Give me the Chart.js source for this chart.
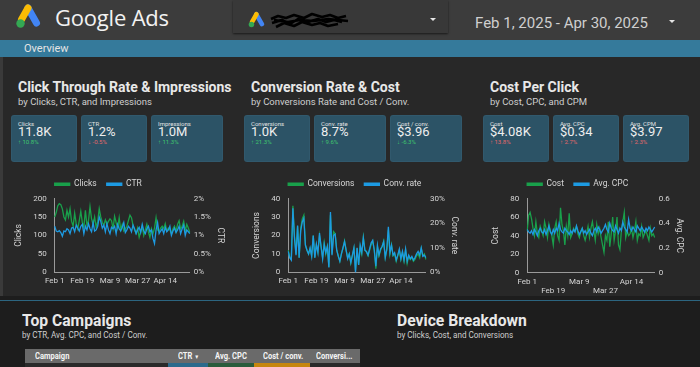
<!DOCTYPE html>
<html>
<head>
<meta charset="utf-8">
<script src="https://cdn.jsdelivr.net/npm/chart.js@4.4.1/dist/chart.umd.min.js"></script>
<style>
html,body{margin:0;padding:0}
body{width:700px;height:367px;overflow:hidden;position:relative;background:#282828;font-family:Roboto,"Noto Sans",sans-serif;color:#e6e6e6}
.a{position:absolute}
#hdr{left:0;top:0;width:700px;height:40px;background:#3c3c3c}
#brand{left:55px;top:2px;font-size:22px;color:#f2f2f2;font-family:"Open Sans",Roboto,sans-serif;letter-spacing:-0.2px}
#acct{left:233px;top:0;width:215px;height:33px;background:#383838;box-shadow:0 1px 2px rgba(0,0,0,.6)}
#dates{left:475px;top:14px;font-size:15px;color:#cfcfcf}
.caret{width:0;height:0;border-left:3px solid transparent;border-right:3px solid transparent;border-top:3px solid #e6e6e6}
#bar{left:0;top:40px;width:700px;height:17px;background:#357a9b}
#bar span{position:absolute;left:24px;top:2px;font-size:11px;color:#e4e4e4}
#edge{left:0;top:57px;width:3px;height:239px;background:#3a3a3a}
.t{font-size:14px;font-weight:bold;color:#e8e8e8;top:79px;white-space:nowrap}
.s{font-size:9.5px;color:#cfcfcf;top:96px;white-space:nowrap}
.card{top:116px;height:45px;background:#2c5366;border-radius:2px;box-shadow:0 0 0 1px #31596d}
.cl{position:absolute;left:6px;top:4px;font-size:6px;color:#e2e2e2}
.cv{position:absolute;left:6px;top:8px;font-size:13px;color:#eeeeee}
.cd{position:absolute;left:6px;top:22px;font-size:6px}
.up{color:#3fc46e}.dn{color:#e2686a}
.cw{overflow:hidden}
#bot{left:0;top:296px;width:700px;height:71px;background:#1d1d1d}
#bline{left:0;top:300px;width:700px;height:1px;background:#2c6580}
.bt{font-size:16.5px;font-weight:bold;color:#e8e8e8;top:311px;white-space:nowrap;transform:scaleX(0.95);transform-origin:0 0}
.bs{font-size:9px;color:#cfcfcf;top:330px;white-space:nowrap;transform:scaleX(0.9);transform-origin:0 0}
#th{left:25px;top:349px;width:335px;height:14px;background:#6a6a6a}
.th{position:absolute;top:2px;font-size:9px;font-weight:bold;color:#f4f4f4;white-space:nowrap;transform:scaleX(0.84);transform-origin:0 0}
</style>
</head>
<body>
<div class="a" id="hdr"></div>
<svg class="a" style="left:14px;top:3px" width="30" height="26" viewBox="0 0 30 26">
  <line x1="14" y1="5" x2="22.5" y2="20" stroke="#4285f4" stroke-width="7" stroke-linecap="round"/>
  <line x1="14" y1="5" x2="7.5" y2="16.5" stroke="#fbbc04" stroke-width="7" stroke-linecap="round"/>
  <circle cx="6.5" cy="20.5" r="4.2" fill="#34a853"/>
</svg>
<div class="a" id="brand">Google Ads</div>
<div class="a" id="acct"></div>
<svg class="a" style="left:247px;top:11px" width="20" height="17" viewBox="0 0 30 26">
  <line x1="14" y1="5" x2="22.5" y2="20" stroke="#4285f4" stroke-width="7" stroke-linecap="round"/>
  <line x1="14" y1="5" x2="7.5" y2="16.5" stroke="#fbbc04" stroke-width="7" stroke-linecap="round"/>
  <circle cx="6.5" cy="20.5" r="4.2" fill="#34a853"/>
</svg>
<svg class="a" style="left:268px;top:10px" width="82" height="22" viewBox="0 0 82 22">
  <path d="M3 9 L10 6 L18 8 L26 5 L36 8 L44 4 L54 7 L62 5 L70 8 L78 6 M4 13 L14 10 L22 14 L30 9 L40 12 L50 9 L58 12 L66 10 L74 12 M8 17 L16 13 L26 16 L34 12 L44 15 L52 13 L60 16 L70 14 M6 10 L20 12 L32 10 L46 11 L60 9 L80 11" stroke="#000" stroke-width="2.6" fill="none" stroke-linejoin="round"/>
</svg>
<div class="a caret" style="left:430px;top:18px"></div>
<div class="a" id="dates">Feb 1, 2025 - Apr 30, 2025</div>
<div class="a caret" style="left:669px;top:20px"></div>
<div class="a" id="bar"><span>Overview</span></div>
<div class="a" id="edge"></div>

<div class="a t" style="left:18px">Click Through Rate &amp; Impressions</div>
<div class="a s" style="left:18px">by Clicks, CTR, and Impressions</div>
<div class="a card" style="left:12px;width:64px"><div class="cl">Clicks</div><div class="cv">11.8K</div><div class="cd up">↑ 10.8%</div></div>
<div class="a card" style="left:82px;width:64px"><div class="cl">CTR</div><div class="cv">1.2%</div><div class="cd dn">↓ -0.5%</div></div>
<div class="a card" style="left:152px;width:70px"><div class="cl">Impressions</div><div class="cv">1.0M</div><div class="cd up">↑ 11.3%</div></div>

<div class="a t" style="left:251px">Conversion Rate &amp; Cost</div>
<div class="a s" style="left:251px">by Conversions Rate and Cost / Conv.</div>
<div class="a card" style="left:245px;width:64px"><div class="cl">Conversions</div><div class="cv">1.0K</div><div class="cd up">↑ 21.3%</div></div>
<div class="a card" style="left:315px;width:70px"><div class="cl">Conv. rate</div><div class="cv">8.7%</div><div class="cd up">↑ 9.6%</div></div>
<div class="a card" style="left:391px;width:70px"><div class="cl">Cost / conv.</div><div class="cv">$3.96</div><div class="cd up">↓ -6.3%</div></div>

<div class="a t" style="left:490px">Cost Per Click</div>
<div class="a s" style="left:490px">by Cost, CPC, and CPM</div>
<div class="a card" style="left:484px;width:64px"><div class="cl">Cost</div><div class="cv">$4.08K</div><div class="cd dn">↑ 13.8%</div></div>
<div class="a card" style="left:554px;width:64px"><div class="cl">Avg. CPC</div><div class="cv">$0.34</div><div class="cd dn">↑ 2.7%</div></div>
<div class="a card" style="left:624px;width:64px"><div class="cl">Avg. CPM</div><div class="cv">$3.97</div><div class="cd dn">↑ 2.3%</div></div>

<div class="a cw" style="left:14px;top:170px;width:212px;height:125px"><div style="position:relative;width:212px;height:120px"><canvas id="c1"></canvas></div></div>
<div class="a cw" style="left:252px;top:170px;width:208px;height:125px"><div style="position:relative;width:208px;height:120px"><canvas id="c2"></canvas></div></div>
<div class="a cw" style="left:491px;top:170px;width:194px;height:125px"><div style="position:relative;width:194px;height:130px"><canvas id="c3"></canvas></div></div>

<div class="a" id="bot"></div>
<div class="a" id="bline"></div>
<div class="a bt" style="left:22px">Top Campaigns</div>
<div class="a bs" style="left:22px">by CTR, Avg. CPC, and Cost / Conv.</div>
<div class="a bt" style="left:397px">Device Breakdown</div>
<div class="a bs" style="left:397px">by Clicks, Cost, and Conversions</div>
<div class="a" id="th">
  <span class="th" style="left:10px">Campaign</span>
  <span class="th" style="left:153px">CTR <span style="font-size:6px">▼</span></span>
  <span class="th" style="left:190px">Avg. CPC</span>
  <span class="th" style="left:238px">Cost / conv.</span>
  <span class="th" style="left:291px">Conversi...</span>
</div>
<div class="a" style="left:25px;top:363px;width:143px;height:4px;background:#2a2a2a"></div>
<div class="a" style="left:168px;top:363px;width:40px;height:4px;background:#2b6a8c"></div>
<div class="a" style="left:208px;top:363px;width:46px;height:4px;background:#2a5c3c"></div>
<div class="a" style="left:254px;top:363px;width:56px;height:4px;background:#c6860e"></div>
<div class="a" style="left:310px;top:363px;width:50px;height:4px;background:#2a2a2a"></div>

<script>
'use strict';
// daily series, Feb 1 - Apr 30 2025
var tickLabels = ['Feb 1', 'Feb 19', 'Mar 9', 'Mar 27', 'Apr 14'];

var clicks = [150, 162, 180, 186, 183, 172, 150, 142, 168, 150,
    172, 138, 125, 160, 132, 118, 140, 165, 135, 122,
    168, 128, 140, 178, 145, 130, 150, 122, 138, 172,
    150, 135, 128, 142, 130, 138, 145, 140, 118, 152,
    135, 120, 148, 115, 130, 112, 118, 125, 140, 155,
    148, 128, 115, 105, 120, 95, 110, 125, 100, 115,
    130, 110, 95, 118, 105, 120, 148, 115, 110, 120,
    125, 118, 132, 112, 120, 115, 105, 118, 125, 110,
    130, 140, 118, 125, 138, 112, 130, 120, 108];
var ctr = [1.25, 1.12, 1.10, 1.13, 1.08, 0.98, 1.12, 1.10, 1.18, 1.15,
    1.05, 1.20, 1.22, 1.10, 1.28, 1.20, 1.12, 1.25, 1.30, 1.05,
    1.25, 1.15, 1.32, 1.18, 1.10, 1.35, 1.12, 1.15, 1.25, 1.50,
    1.38, 1.20, 1.28, 1.10, 1.32, 1.15, 1.05, 1.22, 1.18, 1.25,
    1.05, 1.30, 1.18, 1.12, 1.22, 1.35, 1.08, 1.15, 1.25, 1.20,
    1.10, 1.28, 1.18, 1.05, 1.15, 1.22, 1.08, 1.30, 1.12, 1.05,
    1.18, 1.25, 1.10, 1.15, 0.92, 0.78, 1.15, 1.35, 1.05, 1.12,
    1.18, 1.05, 1.22, 1.10, 1.15, 1.25, 1.00, 1.12, 1.20, 1.08,
    1.15, 1.25, 1.05, 1.18, 1.28, 1.00, 1.15, 1.10, 1.05];

var conversions = [12, 8, 7, 36, 20, 10, 25, 8, 24, 29,
    31, 15, 12, 10, 13, 9, 20, 8, 15, 11,
    20, 14, 8, 16, 10, 14, 3, 31, 10, 22,
    21, 12, 9, 6, 10, 13, 17, 12, 8, 10,
    5, 9, 13, 1, 13, 4, 14, 10, 19, 12,
    11, 9, 12, 15, 17, 12, 2, 14, 9, 12,
    14, 17, 8, 12, 23, 10, 15, 9, 10, 6,
    9, 12, 7, 11, 6, 12, 5, 9, 7, 8,
    6, 7, 9, 10, 8, 13, 9, 10, 7];
var convRate = [8.5, 6.0, 5.0, 26.0, 14.0, 7.0, 19.0, 6.0, 17.0, 20.5,
    22.0, 11.0, 9.0, 7.5, 10.0, 6.5, 15.0, 6.0, 11.5, 8.0,
    16.0, 10.5, 5.5, 11.5, 8.0, 10.5, 2.0, 24.5, 7.0, 15.0,
    15.5, 9.0, 6.5, 4.5, 7.5, 10.0, 12.5, 9.0, 5.5, 7.5,
    4.0, 7.0, 10.0, 0.0, 10.0, 3.0, 11.0, 8.0, 14.0, 9.0,
    8.5, 7.0, 9.5, 12.0, 13.0, 9.0, 2.5, 11.0, 7.0, 9.5,
    10.5, 12.5, 6.0, 9.5, 18.5, 8.0, 11.0, 7.0, 8.0, 5.0,
    7.0, 9.5, 5.5, 8.5, 5.0, 9.5, 4.5, 7.0, 5.5, 6.5,
    5.0, 6.0, 7.5, 8.5, 7.0, 10.0, 6.5, 7.0, 6.0];

var cost = [45, 62, 65, 58, 48, 40, 55, 42, 38, 50,
    45, 40, 55, 48, 38, 52, 45, 40, 30, 48,
    55, 40, 35, 70, 52, 45, 30, 50, 40, 64,
    38, 42, 48, 45, 50, 42, 38, 45, 48, 40,
    35, 42, 50, 38, 48, 55, 45, 35, 52, 42,
    48, 38, 30, 22, 40, 35, 55, 28, 42, 60,
    35, 45, 60, 30, 25, 45, 55, 65, 38, 45,
    40, 42, 48, 38, 45, 55, 35, 42, 40, 50,
    38, 42, 45, 40, 35, 48, 40, 42, 38];
var cpc = [0.35, 0.33, 0.32, 0.34, 0.31, 0.35, 0.33, 0.30, 0.34, 0.36,
    0.33, 0.32, 0.35, 0.31, 0.34, 0.38, 0.33, 0.31, 0.35, 0.32,
    0.36, 0.34, 0.40, 0.35, 0.33, 0.32, 0.36, 0.34, 0.33, 0.31,
    0.34, 0.32, 0.35, 0.33, 0.38, 0.34, 0.31, 0.33, 0.36, 0.32,
    0.34, 0.31, 0.33, 0.35, 0.32, 0.30, 0.34, 0.36, 0.33, 0.37,
    0.35, 0.32, 0.34, 0.36, 0.39, 0.35, 0.33, 0.40, 0.36, 0.34,
    0.33, 0.38, 0.35, 0.32, 0.36, 0.34, 0.41, 0.37, 0.35, 0.33,
    0.43, 0.36, 0.34, 0.37, 0.35, 0.33, 0.38, 0.36, 0.34, 0.37,
    0.35, 0.33, 0.36, 0.34, 0.37, 0.35, 0.33, 0.35, 0.37];

var GREEN = '#19a04b', BLUE = '#1d9be3', TXT = '#d6d6d6', AXIS = '#9a9a9a';

function days()
{
    var out = [], d = new Date(2025, 1, 1), m = ['Jan','Feb','Mar','Apr','May'];
    while (d.getMonth() < 4) {
        out.push(m[d.getMonth()] + ' ' + d.getDate());
        d.setDate(d.getDate() + 1);
    }
    return out;
}
var labels = days();

// legend starts flush with the plot, like the original
var legendShift = { id:'legendShift', afterLayout:function (c) {
    c.legend.left = c.chartArea.left - 10; } };

function build(id, names, a, b, y, y1, stagger)
{
    var font = { family:'Roboto', size:8 };
    return new Chart(document.getElementById(id), {
        type:'line',
        data:{
            labels:labels,
            datasets:[
                // blue drawn above green
                { label:names[0], data:a, yAxisID:'y', order:2, borderColor:GREEN, backgroundColor:GREEN, borderWidth:1.3, pointRadius:0, tension:0 },
                { label:names[1], data:b, yAxisID:'y1', order:1, borderColor:BLUE, backgroundColor:BLUE, borderWidth:1.3, pointRadius:0, tension:0 }
            ]
        },
        options:{
            responsive:true,
            maintainAspectRatio:false,
            animation:false,
            layout:{ padding:0 },
            plugins:{
                legend:{ position:'top', align:'start',
                    labels:{ color:TXT, font:{ family:'Roboto', size:8.5 }, boxWidth:15, boxHeight:2, padding:10,
                        sort:function (p, q) {
                            return p.datasetIndex - q.datasetIndex; } } },
                tooltip:{ enabled:false }
            },
            scales:{
                x:{
                    grid:{ display:false, drawTicks:false },
                    border:{ display:true, color:AXIS },
                    ticks:{ color:TXT, font:font, autoSkip:false, maxRotation:0, padding:4,
                        callback:function (v) {
                            var l = this.getLabelForValue(v), k = tickLabels.indexOf(l);
                            if (k < 0) {
                                return '';
                            }
                            return (stagger && k % 2) ? ['', l] : l; } }
                },
                y:{
                    position:'left', min:y.min, max:y.max,
                    grid:{ display:false, drawTicks:false },
                    border:{ display:true, color:AXIS },
                    ticks:{ color:TXT, font:font, stepSize:y.step, padding:8 },
                    title:{ display:true, text:y.title, color:TXT, font:{ family:'Roboto', size:8.5 }, padding:{ top:0, bottom:1 } }
                },
                y1:{
                    position:'right', min:y1.min, max:y1.max,
                    grid:{ display:false, drawTicks:false },
                    border:{ display:false },
                    ticks:{ color:TXT, font:font, stepSize:y1.step, padding:4, callback:y1.fmt },
                    title:{ display:true, text:y1.title, color:TXT, font:{ family:'Roboto', size:8.5 }, padding:{ top:1, bottom:0 } }
                }
            }
        },
        plugins:[legendShift]
    });
}

build('c1', ['Clicks', 'CTR'], clicks, ctr,
    { min:0, max:200, step:50, title:'Clicks' },
    { min:0, max:2, step:0.5, title:'CTR', fmt:function (v) {
        return v + '%'; } }, false);
build('c2', ['Conversions', 'Conv. rate'], conversions, convRate,
    { min:0, max:40, step:10, title:'Conversions' },
    { min:0, max:30, step:10, title:'Conv. rate', fmt:function (v) {
        return v + '%'; } }, false);
build('c3', ['Cost', 'Avg. CPC'], cost, cpc,
    { min:0, max:80, step:20, title:'Cost' },
    { min:0, max:0.6, step:0.2, title:'Avg. CPC', fmt:function (v) {
        return String(Math.round(v * 10) / 10); } }, true);
</script>
</body>
</html>
